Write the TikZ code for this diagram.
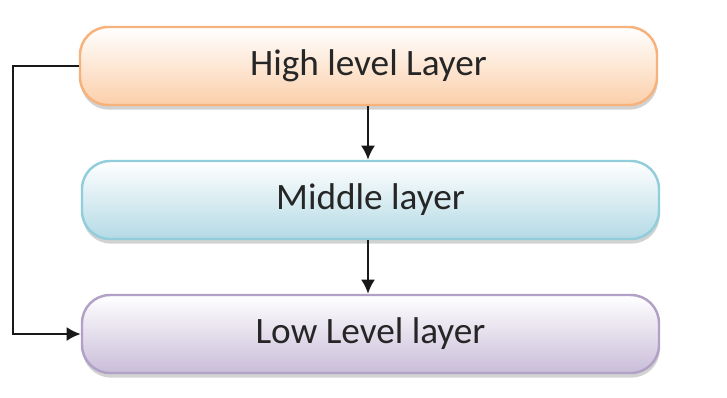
\documentclass[tikz,border=0pt]{standalone}
\usepackage{fontspec}
\setmainfont{Carlito}
\usetikzlibrary{arrows.meta,positioning,shadows}

\definecolor{hiborder}{HTML}{F7B27C}
\definecolor{hifill}{HTML}{FBCFAA}
\definecolor{midborder}{HTML}{92CDDC}
\definecolor{midfill}{HTML}{B4DAE5}
\definecolor{lowborder}{HTML}{B2A1C7}
\definecolor{lowfill}{HTML}{C9BDD9}

\begin{document}
\begin{tikzpicture}[line width=0.7pt]

   \tikzstyle{layer}=[rectangle, rounded corners=2.8mm, draw, line width=0.7pt, minimum width=5.77cm, minimum height=0.78cm, text=black!85, font=\fontsize{10.6}{12}\selectfont, drop shadow={shadow xshift=0.2pt, shadow yshift=-1.3pt, opacity=0.35}]
   \tikzstyle{high}=[layer, draw=hiborder, top color=white, bottom color=hifill]
   \tikzstyle{mid}=[layer, draw=midborder, top color=white, bottom color=midfill]
   \tikzstyle{low}=[layer, draw=lowborder, top color=white, bottom color=lowfill]
   \tikzstyle{link}=[-{Latex[length=4pt,width=4pt]}, black!90]

   \useasboundingbox[fill=white] (0,0) rectangle (7.27,-3.97);

   \node[high] (hl) at (3.685,-0.66) {High level Layer};
   \node[mid]  (ml) at (3.705,-2.00) {Middle layer};
   \node[low]  (ll) at (3.705,-3.34) {Low Level layer};

   % links between layers
   \draw[link] (hl.south -| 3.68,0) -- (ml.north -| 3.68,0);
   \draw[link] (ml.south -| 3.68,0) -- (ll.north -| 3.68,0);
   \draw[link] (hl.west) -- ++(-0.66,0) |- (ll.west);
\end{tikzpicture}
\end{document}
